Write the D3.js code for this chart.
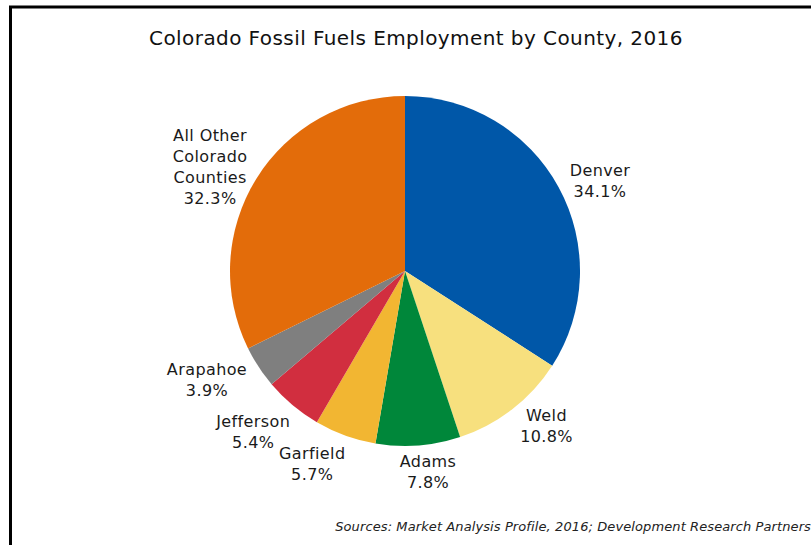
<!DOCTYPE html>
<html>
<head>
<meta charset="utf-8">
<script src="https://cdn.jsdelivr.net/npm/d3@7"></script>
<style>
  body { margin: 0; background: #fff; }
  svg { display: block; font-family: "DejaVu Sans", Verdana, sans-serif; }
</style>
</head>
<body>
<div id="chart-area"></div>
<script>
const WIDTH = 811
const HEIGHT = 545

// data (share of employment, %)
const counties = ["Denver", "Weld", "Adams", "Garfield", "Jefferson", "Arapahoe", "All Other Colorado Counties"]
const shares = [34.1, 10.8, 7.8, 5.7, 5.4, 3.9, 32.3]
const colors = ["#0057a8", "#f7e07e", "#00873a", "#f2b632", "#d12e3f", "#7f7f7f", "#e36c0a"]
// how each label breaks onto lines
const labelLines = [["Denver"], ["Weld"], ["Adams"], ["Garfield"], ["Jefferson"], ["Arapahoe"], ["All Other", "Colorado", "Counties"]]

const data = counties.map((c, i) => ({county: c, share: shares[i], color: colors[i], lines: labelLines[i]}))

// small hand nudges so labels sit where the original placed them
const labelNudge = [[8, 12], [11, -14], [7, -12], [-20, -8], [-15, -3], [-20, -8], [-14, 8]]

const svg = d3.select("#chart-area").append("svg")
  .attr("width", WIDTH)
  .attr("height", HEIGHT)

// frame: only left and top edges show in the picture
svg.append("rect")
  .attr("x", 10.5)
  .attr("y", 7)
  .attr("width", WIDTH + 20)
  .attr("height", HEIGHT + 20)
  .attr("fill", "none")
  .attr("stroke", "#000")
  .attr("stroke-width", 3)

// title
svg.append("text")
  .attr("x", 416)
  .attr("y", 45)
  .attr("text-anchor", "middle")
  .attr("font-size", "20px")
  .attr("letter-spacing", "0.42px")
  .attr("fill", "#111")
  .text("Colorado Fossil Fuels Employment by County, 2016")

const RADIUS = 175
const g = svg.append("g")
  .attr("transform", "translate(405, 271)")

const pie = d3.pie()
  .value(d => d.share)
  .sort(null)

const arc = d3.arc()
  .innerRadius(0)
  .outerRadius(RADIUS)

const labelArc = d3.arc()
  .innerRadius(213)
  .outerRadius(213)

const arcs = pie(data)

g.selectAll("path").data(arcs)
  .enter().append("path")
  .attr("d", arc)
  .attr("fill", d => d.data.color)

const LINE_H = 21
const labels = g.selectAll("text.label").data(arcs)
  .enter().append("text")
  .attr("class", "label")
  .attr("text-anchor", "middle")
  .attr("font-size", "16px")
  .attr("letter-spacing", "0.4px")
  .attr("fill", "#1a1a1a")
  .attr("transform", (d, i) => {
    const [x, y] = labelArc.centroid(d)
    const n = d.data.lines.length + 1
    const [nx, ny] = labelNudge[i]
    return `translate(${x + nx}, ${y + ny - (n - 1) * LINE_H / 2 + 6})`
  })

labels.each(function(d) {
  const t = d3.select(this)
  const rows = d.data.lines.concat([d.data.share.toFixed(1) + "%"])
  rows.forEach((r, i) => {
    t.append("tspan")
      .attr("x", 0)
      .attr("dy", i === 0 ? 0 : LINE_H)
      .text(r)
  })
})

// source note
svg.append("text")
  .attr("x", 811)
  .attr("y", 531)
  .attr("text-anchor", "end")
  .attr("font-size", "13px")
  .attr("letter-spacing", "0.1px")
  .attr("font-style", "italic")
  .attr("fill", "#222")
  .text("Sources: Market Analysis Profile, 2016; Development Research Partners")
</script>
</body>
</html>
